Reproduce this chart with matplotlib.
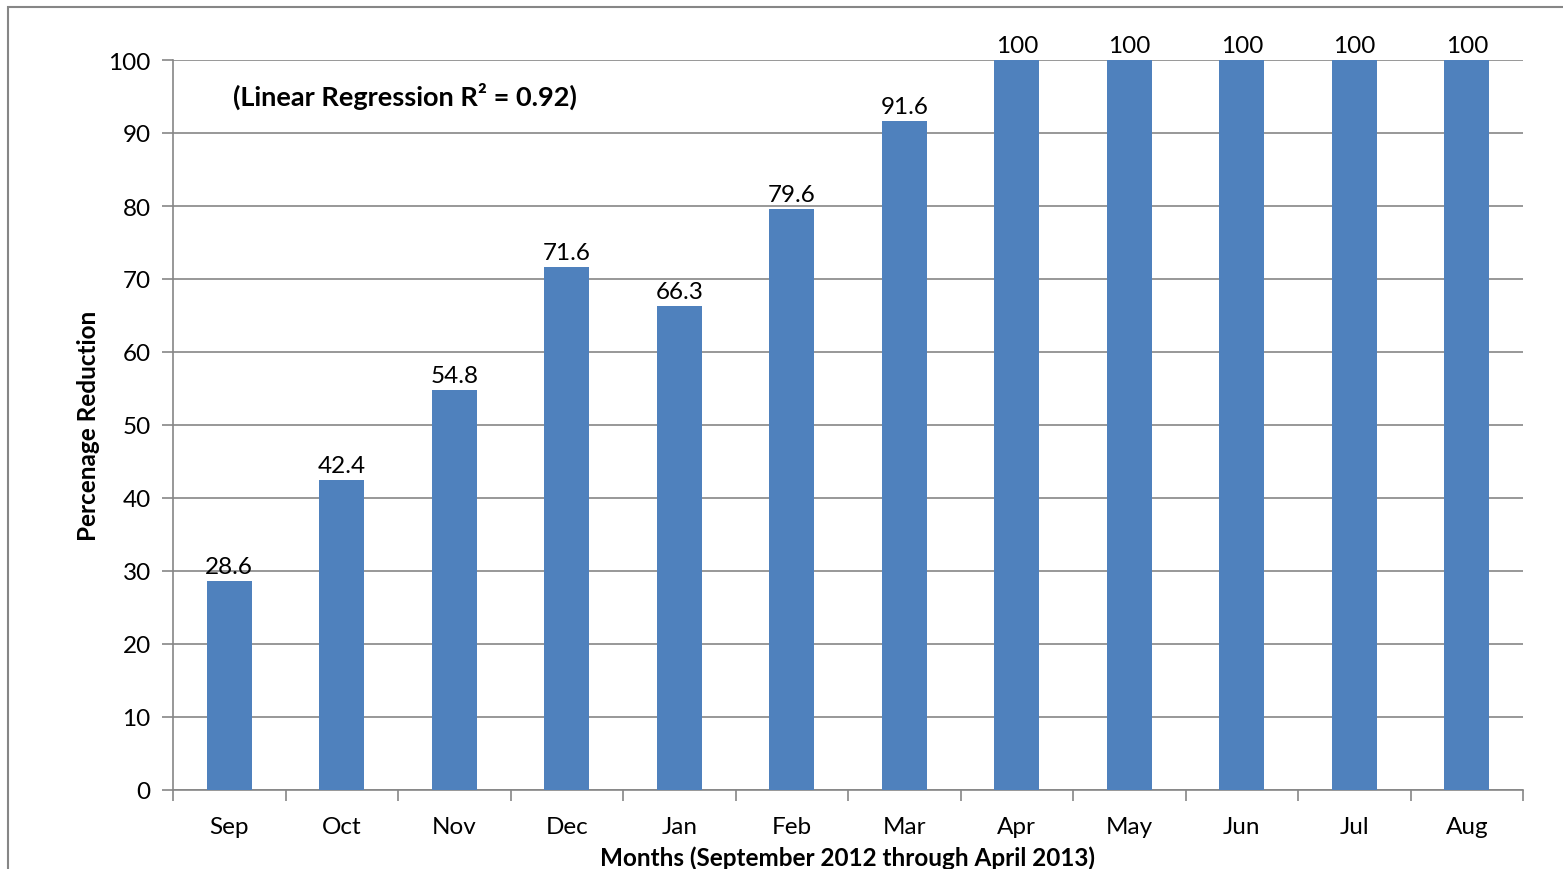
import matplotlib.pyplot as plt
from matplotlib.patches import Rectangle

months = ["Sep", "Oct", "Nov", "Dec", "Jan", "Feb", "Mar", "Apr", "May", "Jun", "Jul", "Aug"]
reduction = [28.6, 42.4, 54.8, 71.6, 66.3, 79.6, 91.6, 100, 100, 100, 100, 100]
value_labels = ["28.6", "42.4", "54.8", "71.6", "66.3", "79.6", "91.6", "100", "100", "100", "100", "100"]

plt.rcParams["font.family"] = ["Lato", "DejaVu Sans"]
bar_color = "#4F81BD"
line_color = "#868686"
fs = 17.5

fig = plt.figure(figsize=(15.63, 8.70), dpi=100)
ax = fig.add_axes([173 / 1563, 1 - 791 / 870, 1350 / 1563, 730 / 870])

# outer chart-area border (clipped by the image on right/bottom)
fig.patches.append(Rectangle((8 / 1563, -0.1), 1.2, 1 - 8 / 870 + 0.1,
                             transform=fig.transFigure, fill=False,
                             edgecolor=line_color, linewidth=1.5))

x = list(range(len(months)))
ax.bar(x, reduction, width=0.4, color=bar_color, zorder=3)

for xi, v, lab in zip(x, reduction, value_labels):
    ax.text(xi, v + 0.6, lab, ha="center", va="bottom", fontsize=fs, color="black")

ax.set_xlim(-0.5, len(months) - 0.5)
ax.set_ylim(0, 100)
ax.set_yticks(range(0, 101, 10))
ax.yaxis.grid(True, color=line_color, linewidth=1.2, zorder=0)
ax.set_axisbelow(True)

ax.set_xticks(x)
ax.set_xticklabels(months, fontsize=fs)
ax.set_xticks([i - 0.5 for i in range(len(months) + 1)], minor=True)
ax.tick_params(axis="x", which="major", length=0, pad=19)
ax.tick_params(axis="x", which="minor", length=8, color=line_color, width=1.2)
ax.tick_params(axis="y", length=8, color=line_color, width=1.2, labelsize=fs, pad=8)

for side in ["top", "right"]:
    ax.spines[side].set_visible(False)
for side in ["left", "bottom"]:
    ax.spines[side].set_color(line_color)
    ax.spines[side].set_linewidth(1.2)

ax.set_ylabel("Percenage Reduction", fontsize=fs, fontweight="bold", labelpad=6)
ax.set_xlabel("Months (September 2012 through April 2013)", fontsize=fs,
              fontweight="bold", labelpad=6)

fig.text(233 / 1563, 1 - 96 / 870, "(Linear Regression R\u00b2 = 0.92)",
         fontsize=19.5, fontweight="bold", ha="left", va="center")

fig.savefig("out.png", dpi=100)
